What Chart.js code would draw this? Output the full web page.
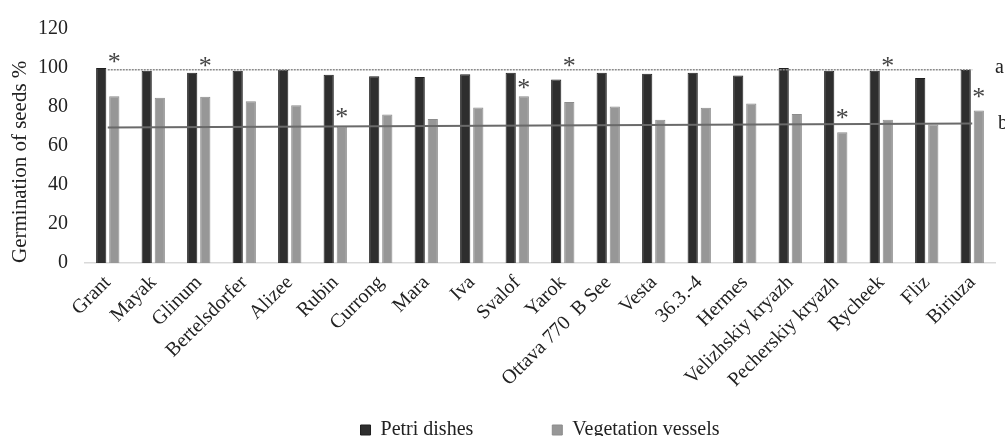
<!DOCTYPE html>
<html>
<head>
<meta charset="utf-8">
<script src="https://cdn.jsdelivr.net/npm/chart.js@4.4.1/dist/chart.umd.min.js"></script>
<style>
    body { margin: 0; overflow: hidden; background: #fff; }
    #wrap { width: 1005px; height: 450px; }
</style>
</head>
<body>
<div id="wrap"><canvas id="graph"></canvas></div>
<script>
// varieties and germination values
const varieties = ["Grant", "Mayak", "Glinum", "Bertelsdorfer", "Alizee", "Rubin", "Currong", "Mara", "Iva", "Svalof",
    "Yarok", "Ottava 770  B See", "Vesta", "36.3.-4", "Hermes", "Velizhskiy kryazh", "Pecherskiy kryazh", "Rycheek", "Fliz", "Biriuza"];
const petriDishes = [100, 98.6, 97.6, 98.6, 99.1, 96.5, 95.8, 95.4, 96.8, 97.6,
    94.1, 97.6, 97.1, 97.6, 96.1, 100, 98.6, 98.6, 94.9, 99];
const vegVessels = [85.5, 84.7, 85.3, 82.9, 80.9, 70, 76.2, 73.8, 79.7, 85.5,
    82.6, 80.3, 73.5, 79.6, 81.8, 76.4, 67.1, 73.5, 71, 78.2];
// asterisks (height on the y scale), null = none
const stars = [105, null, 103, null, null, 76.9, null, null, null, 91.9,
    103, null, null, null, null, null, 76.2, 103, null, 87.3];
// level lines a (dotted) and b (solid), ends only
const lineA = [99.1, null, null, null, null, null, null, null, null, null,
    null, null, null, null, null, null, null, null, null, 99.1];
const lineB = [69.5, null, null, null, null, null, null, null, null, null,
    null, null, null, null, null, null, null, null, null, 71.6];
const yTicks = [0, 20, 40, 60, 80, 100, 120];

const serif = '"Liberation Serif", "Times New Roman", serif';

const marksPlugin = {
    id: 'marks',
    afterDatasetsDraw(chart) {
        const ctx = chart.ctx;
        const y = chart.scales.y;
        const gray = chart.getDatasetMeta(1);
        ctx.save();
        ctx.font = '26px ' + serif;
        ctx.fillStyle = '#444';
        ctx.textAlign = 'center';
        ctx.textBaseline = 'alphabetic';
        const m = ctx.measureText('*');
        const off = (m.actualBoundingBoxAscent - m.actualBoundingBoxDescent) / 2;
        stars.forEach((v, i) => {
            if (v == null) return;
            ctx.fillText('*', gray.data[i].x, y.getPixelForValue(v) + off);
        });
        // a / b labels at the right end of the level lines
        ctx.font = '20px ' + serif;
        ctx.fillStyle = '#222';
        ctx.textAlign = 'left';
        ctx.textBaseline = 'middle';
        ctx.fillText('a', chart.chartArea.right, y.getPixelForValue(lineA[lineA.length - 1]) - 2);
        ctx.fillText('b', chart.chartArea.right + 3, y.getPixelForValue(lineB[lineB.length - 1]));
        ctx.restore();
    }
};

Chart.defaults.font.family = serif;
Chart.defaults.font.size = 20;
Chart.defaults.color = '#222';

new Chart("graph", {
    type: 'bar',
    data: {
        labels: varieties,
        datasets: [{
            label: 'Petri dishes',
            data: petriDishes,
            backgroundColor: '#2e2e2e',
            borderColor: '#1f1f1f',
            borderWidth: 1,
            categoryPercentage: 0.575,
            barPercentage: 0.78,
            order: 2
        }, {
            label: 'Vegetation vessels',
            data: vegVessels,
            backgroundColor: '#979797',
            borderColor: '#8c8c8c',
            borderWidth: 1,
            categoryPercentage: 0.575,
            barPercentage: 0.78,
            order: 2
        }, {
            type: 'line',
            label: 'a',
            data: lineA,
            spanGaps: true,
            borderColor: '#8a8a8a',
            borderWidth: 1.5,
            borderDash: [2, 1],
            pointRadius: 0,
            order: 1
        }, {
            type: 'line',
            label: 'b',
            data: lineB,
            spanGaps: true,
            borderColor: '#6a6a6a',
            borderWidth: 2,
            pointRadius: 0,
            order: 1
        }]
    },
    options: {
        responsive: true,
        maintainAspectRatio: false,
        animation: false,
        layout: { padding: { left: 4, right: 10, top: 5.5, bottom: 0 } },
        scales: {
            x: {
                grid: { display: false, drawTicks: false },
                border: { display: true, color: '#d9d9d9', width: 1.5 },
                ticks: { maxRotation: 45, minRotation: 45, padding: 8, color: '#222', autoSkip: false },
                afterFit: s => { s.height = 153; s.paddingLeft = 0; s.paddingRight = 0 }
            },
            y: {
                min: 0,
                max: 120,
                afterBuildTicks: s => { s.ticks = yTicks.map(v => ({ value: v })) },
                afterFit: s => { s.width = 81 },
                grid: { display: false, drawTicks: false },
                border: { display: false },
                ticks: { padding: 17, color: '#222' },
                title: { display: true, text: 'Germination of seeds %', align: 'start', color: '#222', font: { size: 21, family: serif }, padding: { top: 4, bottom: 4 } }
            }
        },
        plugins: {
            tooltip: { enabled: false },
            legend: {
                position: 'bottom',
                fullSize: false,
                labels: {
                    boxWidth: 10,
                    boxHeight: 10,
                    padding: 4,
                    color: '#222',
                    font: { family: serif, size: 20 },
                    generateLabels: chart => Chart.defaults.plugins.legend.labels.generateLabels(chart)
                        .filter(it => it.datasetIndex < 2)
                        .map(it => {
                            if (it.datasetIndex == 0) it.text = it.text + '\u00a0'.repeat(15);
                            return it;
                        })
                }
            }
        }
    },
    plugins: [marksPlugin]
});
</script>
</body>
</html>
